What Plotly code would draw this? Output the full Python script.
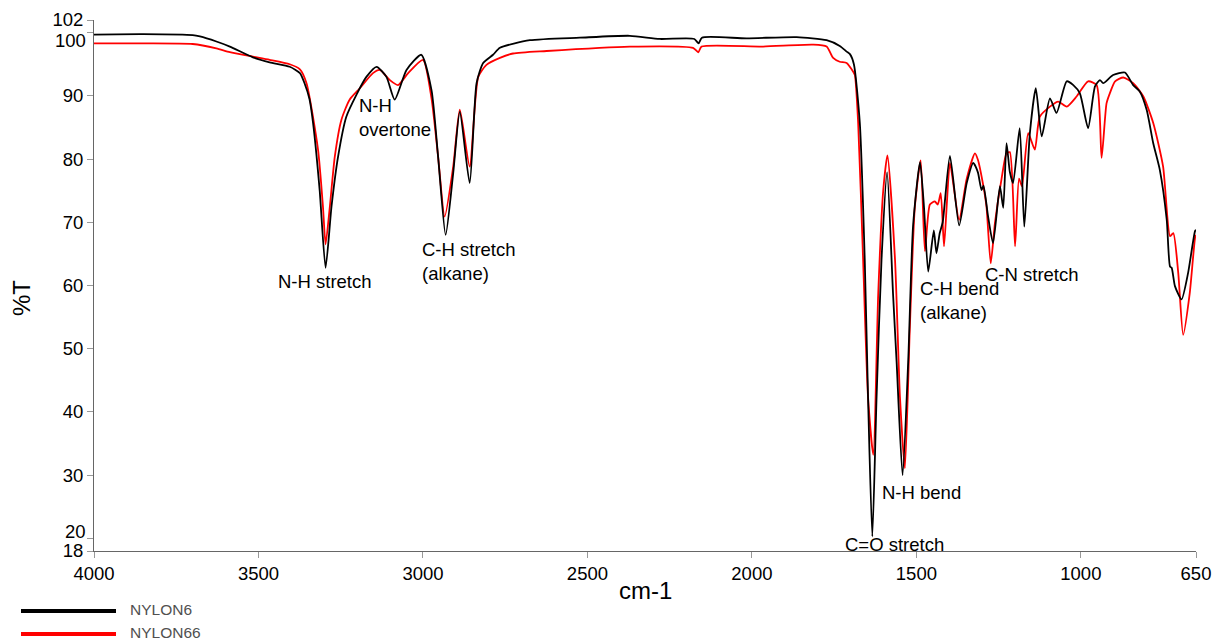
import plotly.graph_objects as go

# ---- data (wavenumber cm-1, %T) ----
nylon6_wn = [4000, 3850, 3700, 3678, 3628, 3587, 3517, 3466, 3405, 3374, 3360, 3345, 3334, 3314, 3296,
             3278, 3258, 3233, 3202, 3172, 3141, 3111, 3086, 3050, 3005, 2974, 2954, 2931, 2908, 2888,
             2858, 2837, 2817, 2787, 2766, 2675, 2523, 2371, 2280, 2175, 2162, 2152, 2016, 1864, 1773,
             1733, 1712, 1702, 1690, 1672, 1657, 1647, 1634, 1621, 1606, 1589, 1571, 1560, 1542, 1525,
             1510, 1489, 1477, 1464, 1447, 1439, 1429, 1420, 1398, 1370, 1347, 1327, 1313, 1302, 1296,
             1282, 1267, 1246, 1236, 1226, 1216, 1206, 1186, 1172, 1155, 1137, 1119, 1094, 1074, 1043,
             1023, 1003, 978, 957, 942, 932, 902, 866, 841, 821, 800, 780, 760, 739, 729, 724, 714,
             694, 674, 653, 650]
nylon6_t = [99.7, 99.75, 99.6, 99.4, 98.6, 97.8, 96.1, 95.3, 94.6, 93.6, 92.0, 89.5, 85.7, 75.1, 62.8,
            72.5, 80.4, 86.7, 90.2, 93.0, 94.6, 93.0, 89.4, 94.1, 96.5, 90.9, 80.4, 68.0, 77.8, 87.5,
            76.2, 92.0, 95.2, 96.5, 97.6, 98.8, 99.2, 99.5, 99.0, 99.0, 98.3, 99.2, 99.1, 99.3, 98.8,
            97.9, 97.0, 96.6, 95.0, 85.7, 64.1, 42.4, 20.3, 42.4, 64.1, 77.9, 58.7, 47.8, 30.0, 47.8,
            69.5, 79.5, 72.5, 62.2, 68.7, 65.1, 68.3, 70.0, 80.5, 69.5, 76.2, 79.4, 77.9, 75.1, 75.8,
            70.9, 66.7, 75.7, 72.3, 82.5, 78.0, 76.2, 84.9, 69.3, 84.1, 91.2, 83.6, 89.6, 87.3, 92.3,
            91.7, 90.4, 84.9, 91.5, 92.5, 92.0, 93.3, 93.7, 91.7, 90.7, 87.8, 82.5, 78.3, 70.4, 63.0, 62.8, 59.9,
            57.8, 62.0, 68.6, 68.8]

nylon66_wn = [4000, 3850, 3700, 3628, 3587, 3517, 3466, 3405, 3374, 3354, 3319, 3304, 3296, 3283, 3268,
              3248, 3223, 3192, 3152, 3131, 3101, 3076, 3045, 3000, 2974, 2954, 2934, 2908, 2888, 2858,
              2832, 2807, 2766, 2726, 2624, 2371, 2179, 2163, 2153, 1966, 1814, 1773, 1753, 1733, 1712,
              1692, 1687, 1677, 1662, 1647, 1631, 1616, 1601, 1588, 1565, 1550, 1535, 1520, 1505, 1487,
              1474, 1459, 1444, 1435, 1426, 1416, 1407, 1398, 1370, 1347, 1322, 1313, 1297, 1287, 1274,
              1261, 1241, 1226, 1216, 1200, 1188, 1179, 1160, 1140, 1125, 1094, 1069, 1043, 1013, 978,
              952, 937, 922, 912, 896, 871, 841, 810, 780, 750, 729, 719, 704, 689, 669, 653, 650]
nylon66_t = [98.3, 98.3, 98.2, 97.5, 96.9, 96.2, 95.7, 95.0, 94.2, 92.0, 81.5, 72.5, 66.5, 72.5, 80.4,
             86.2, 89.4, 91.2, 93.6, 94.1, 92.5, 91.7, 93.6, 95.7, 89.6, 80.4, 70.9, 78.8, 87.8, 78.8,
             93.0, 94.9, 96.0, 96.7, 97.1, 97.8, 97.6, 96.9, 97.8, 97.8, 98.1, 97.8, 96.0, 95.4, 95.2,
             93.8, 93.3, 85.7, 64.1, 42.4, 33.2, 58.7, 74.9, 80.6, 64.1, 42.4, 31.1, 53.2, 72.2, 79.8,
             65.4, 72.8, 73.3, 72.8, 74.6, 66.2, 73.3, 79.4, 70.4, 76.9, 80.9, 79.9, 75.9, 72.5, 63.5,
             70.0, 76.9, 80.9, 81.1, 66.2, 76.9, 75.7, 84.1, 81.5, 86.7, 88.3, 89.1, 88.3, 89.9, 92.3,
             91.7, 80.2, 88.8, 90.4, 92.3, 92.9, 92.0, 89.9, 85.7, 78.8, 67.8, 68.3, 62.0, 52.2, 58.8, 67.5, 68.0]

series_names = ["NYLON6", "NYLON66"]
series_colors = ["#000000", "#ff0000"]

y_ticks = [18, 20, 30, 40, 50, 60, 70, 80, 90, 100, 102]
x_ticks = [4000, 3500, 3000, 2500, 2000, 1500, 1000, 650]
# tick labels nudged away from crowded neighbours: (value, pixels moved down)
nudged_y_labels = [(100, 8), (20, -7)]

# annotation labels: (text, wavenumber, %T, anchor)
labels = [
    ("N-H stretch", 3299, 60.6, "center"),
    ("N-H<br>overtone", 3200, 86.6, "left"),
    ("C-H stretch<br>(alkane)", 3010, 63.8, "left"),
    ("C-H bend<br>(alkane)", 1495, 57.6, "left"),
    ("C-N stretch", 1297, 61.7, "left"),
    ("N-H bend", 1611, 27.3, "left"),
    ("C=O stretch", 1723, 19.1, "left"),
]

FONT = "Liberation Sans, Arial, sans-serif"
TICK_SIZE = 18.5
PW = 1102.0
PH = 531.0

fig = go.Figure()
for name, color, xs, ys in [(series_names[1], series_colors[1], nylon66_wn, nylon66_t),
                            (series_names[0], series_colors[0], nylon6_wn, nylon6_t)]:
    fig.add_trace(go.Scatter(x=xs, y=ys, mode="lines", name=name,
                             line=dict(color=color, width=1.8, shape="spline", smoothing=0.6),
                             showlegend=False))

for text, x, y, anchor in labels:
    fig.add_annotation(x=x, y=y, text=text, showarrow=False, xanchor=anchor, yanchor="middle",
                       align="left", font=dict(size=18.5, color="#000000", family=FONT))

# nudged y tick labels (plotly yshift: positive = up)
for val, down in nudged_y_labels:
    fig.add_annotation(xref="paper", yref="y", x=(88 - 94) / PW, y=val, yshift=-down,
                       text=str(val), showarrow=False, xanchor="right", yanchor="middle",
                       font=dict(size=TICK_SIZE, color="#000000", family=FONT))

# axis titles
fig.add_annotation(xref="paper", yref="paper", x=(21 - 94) / PW, y=(551 - 298) / PH, text="%T",
                   textangle=-90, xanchor="center", yanchor="middle",
                   showarrow=False, font=dict(size=24, color="#000000", family=FONT))
fig.add_annotation(xref="paper", yref="paper", x=(645 - 94) / PW, y=(551 - 590) / PH, text="cm-1",
                   xanchor="center", yanchor="middle",
                   showarrow=False, font=dict(size=24, color="#000000", family=FONT))

# custom legend
for i, (name, color) in enumerate(zip(series_names, series_colors)):
    py = 611 + i * 23
    yy = (551 - py) / PH
    ty = (551 - (py - 1.5)) / PH
    fig.add_shape(type="line", xref="paper", yref="paper",
                  x0=(21 - 94) / PW, x1=(116 - 94) / PW, y0=yy, y1=yy,
                  line=dict(color=color, width=4))
    fig.add_annotation(xref="paper", yref="paper", x=(128 - 94) / PW, y=ty, text=name,
                       xanchor="left", yanchor="middle", showarrow=False,
                       font=dict(size=15.5, color="#505050", family=FONT))

fig.update_layout(
    width=1214, height=641,
    margin=dict(l=94, r=18, t=20, b=90, autoexpand=False),
    paper_bgcolor="white", plot_bgcolor="white",
    font=dict(family=FONT, size=16, color="#000000"),
)
fig.update_xaxes(range=[4000, 650], tickvals=x_ticks, ticktext=[str(v) for v in x_ticks],
                 showgrid=False, zeroline=False, showline=True, linecolor="#666666", linewidth=1,
                 ticks="outside", ticklen=6, tickcolor="#999999", automargin=False,
                 tickfont=dict(size=TICK_SIZE, color="#000000", family=FONT))
fig.update_yaxes(range=[18, 102], tickvals=y_ticks,
                 ticktext=["" if v in dict(nudged_y_labels) else str(v) for v in y_ticks],
                 showgrid=False, zeroline=False, showline=True, linecolor="#666666", linewidth=1,
                 ticks="outside", ticklen=6, tickcolor="#999999", automargin=False,
                 tickfont=dict(size=TICK_SIZE, color="#000000", family=FONT))

fig.write_html("out.html")
